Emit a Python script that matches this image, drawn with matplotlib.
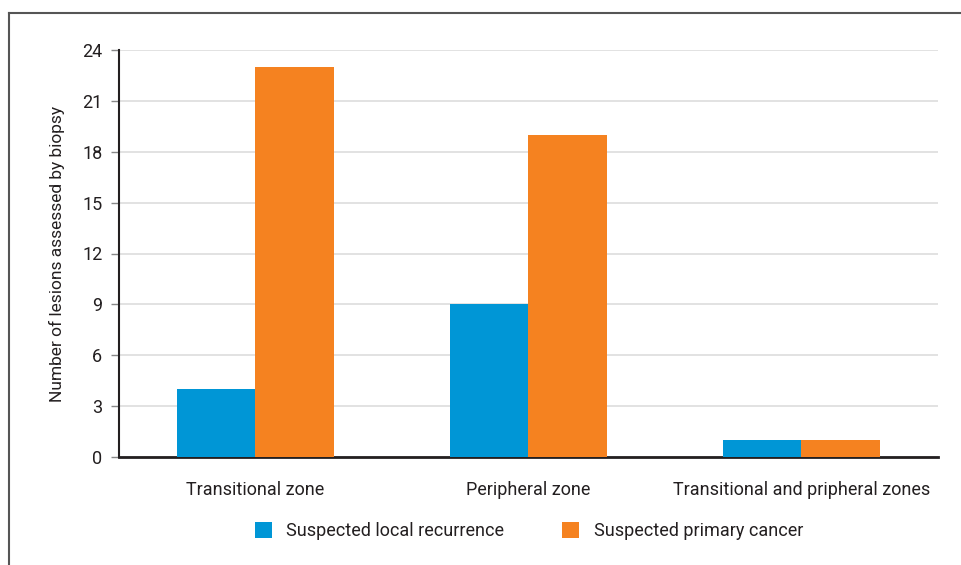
import matplotlib
matplotlib.use('Agg')
import matplotlib.pyplot as plt
from matplotlib.lines import Line2D
import numpy as np

categories = ['Transitional zone', 'Peripheral zone', 'Transitional and pripheral zones']
recurrence = [4, 9, 1]
primary = [23, 19, 1]
yticks = [0, 3, 6, 9, 12, 15, 18, 21, 24]

plt.rcParams['font.family'] = ['Roboto', 'DejaVu Sans']

blue = '#0096d6'
orange = '#f58220'
textc = '#231f20'

fig = plt.figure(figsize=(9.62, 5.65), dpi=100)
ax = fig.add_axes([119/962, 1 - 457/565, 819/962, 407/565])

x = np.arange(len(categories))
w = 0.286
ax.bar(x - w/2, recurrence, w, color=blue, label='Suspected local recurrence', zorder=3)
ax.bar(x + w/2, primary, w, color=orange, label='Suspected primary cancer', zorder=3)

ax.set_xlim(-0.5, 2.5)
ax.set_ylim(0, 24)
ax.set_yticks(yticks)
ax.set_xticks(x)
ax.set_xticklabels(categories, fontsize=13, color=textc)
ax.tick_params(axis='x', length=0, pad=17)
ax.tick_params(axis='y', length=6, width=1, color='#888888', labelsize=13,
               labelcolor=textc, pad=6)
ax.yaxis.grid(True, color='#dddddd', linewidth=1.2, zorder=0)
for s in ['top', 'right']:
    ax.spines[s].set_visible(False)
ax.spines['left'].set_color(textc)
ax.spines['left'].set_linewidth(1.5)
ax.spines['bottom'].set_color(textc)
ax.spines['bottom'].set_linewidth(2)
ax.set_ylabel('Number of lesions assessed by biopsy', fontsize=12.5, color=textc, labelpad=12)

leg = fig.legend(loc='center', bbox_to_anchor=(529/962, 1 - 531/565), ncol=2, frameon=False,
                 fontsize=13, handlelength=0.95, handleheight=0.95, columnspacing=3.2,
                 handletextpad=0.8)
for t in leg.get_texts():
    t.set_color(textc)

# frame lines on top and left
fig.add_artist(Line2D([9/962, 9/962], [0, 1 - 13/565], transform=fig.transFigure,
                      color='#555555', linewidth=1.5))
fig.add_artist(Line2D([9/962, 1], [1 - 13/565, 1 - 13/565], transform=fig.transFigure,
                      color='#555555', linewidth=1.5))

fig.savefig('out.png', dpi=100)
